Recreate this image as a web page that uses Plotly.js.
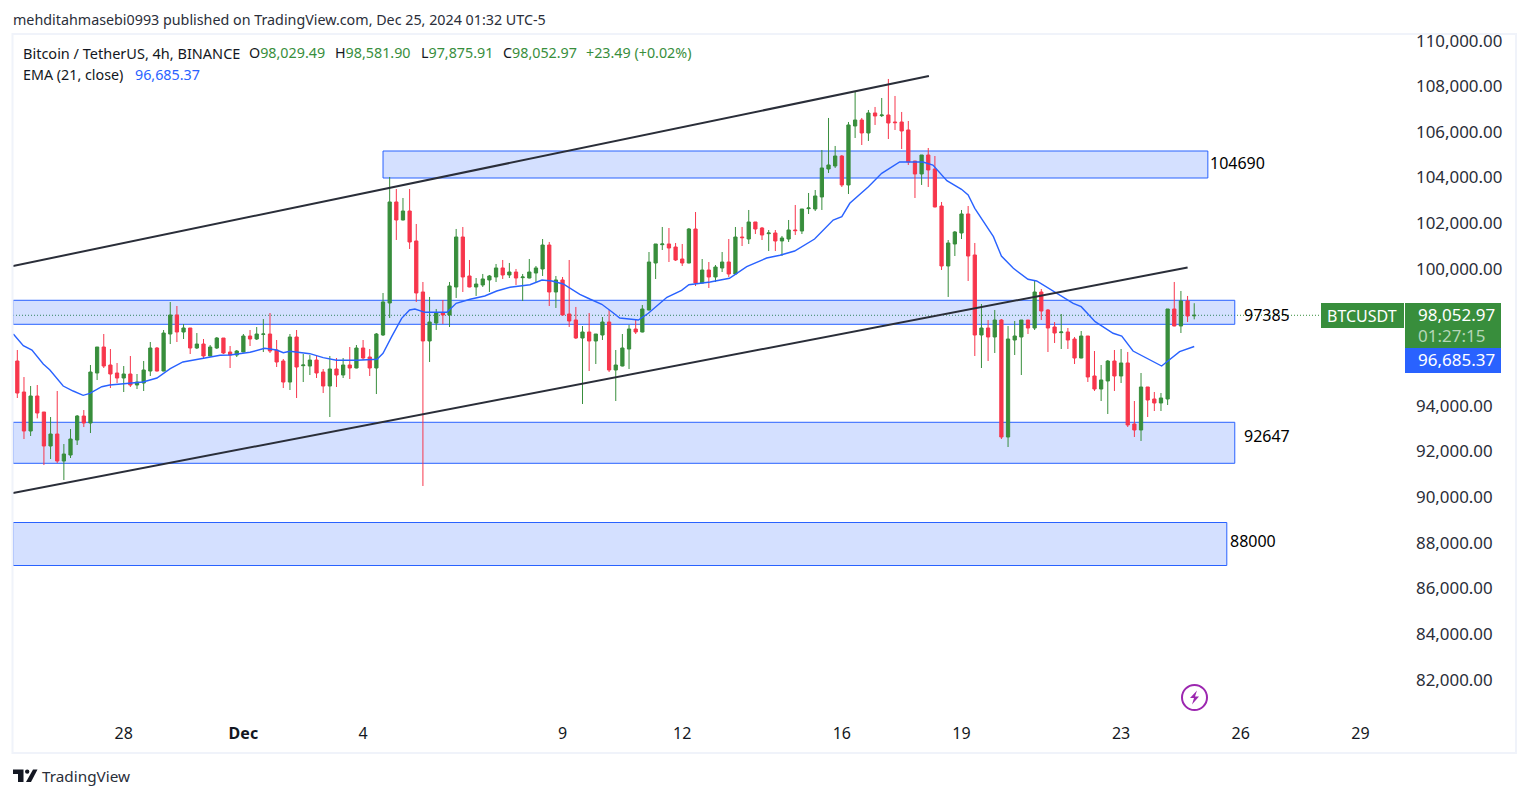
<!DOCTYPE html>
<html>
<head>
<meta charset="utf-8">
<script src="https://cdn.plot.ly/plotly-3.0.1.min.js"></script>
<style>
  html, body { margin: 0; padding: 0; background: #fff; }
  #chart { width: 1529px; height: 798px; }
</style>
</head>
<body>
<div id="chart"></div>
<script>
// BTCUSDT 4h candles, oldest first
const opens = [
  96050,94691,92982,94516,93815,92325,92851,91667,91930,92588,
  93639,93333,95524,96663,95874,95524,95305,95480,94998,95085,
  95611,96619,95611,97233,98065,97320,97496,96619,96794,96269,
  96619,97057,96444,96312,96444,97145,97014,97218,97233,96532,
  96050,95129,97101,95845,95830,96093,95567,94954,95699,95436,
  95874,95743,96619,96225,95743,97190,98592,103018,102229,102623,
  101309,99074,96927,97715,98154,98066,99293,101484,99775,99293,
  99381,99600,99731,100126,99819,99950,99702,99687,99906,100082,
  101133,99074,99600,98110,97847,97057,97320,96926,97189,97759,
  95655,95831,96575,97452,97320,98284,100344,101148,101177,101045,
  100519,100344,101834,99468,100037,99731,100125,100388,99862,101483,
  101396,102141,101878,101630,101659,101309,101396,101791,101747,102726,
  102711,103237,104464,104595,105033,103763,106348,106611,106041,106918,
  106801,106830,106523,106523,106173,104814,104245,105077,104464,102842,
  100213,101177,101659,102492,100695,97189,97496,97102,97846,92719,
  96970,97102,97846,97496,99073,98285,97540,97292,97321,97014,
  96181,97145,95393,94823,95174,96050,95393,95963,93290,93027,
  94911,94385,94210,94385,98329,97584,98680,98029.49
];
const highs = [
  96532,95348,94954,94998,93815,93596,94735,92412,93070,93683,
  93902,95874,96663,97233,96575,95962,95830,96269,95480,96050,
  96882,96663,97408,98635,98460,97671,97496,97276,97014,96751,
  97101,97057,96707,96532,97233,97408,97539,97890,98153,96970,
  96137,97233,97408,96356,96312,96269,95699,96269,96181,96181,
  96663,96751,96970,96575,97276,99030,104113,103587,103193,103587,
  102054,99512,98855,98329,98723,99512,101835,101922,100476,99687,
  99863,99819,100301,100476,100345,100082,99863,100520,100213,101396,
  101265,99775,99731,100476,98417,97583,98153,97233,97978,98284,
  96532,97233,97627,97846,98504,100826,101177,101922,101878,101220,
  101177,101878,102579,100519,100388,100256,100826,101396,101922,101922,
  102667,102141,101922,101790,101790,101528,102229,102886,102711,103412,
  103543,105296,106699,105472,105077,106523,107838,106699,107049,107181,
  107575,108408,107663,106962,106567,104814,105077,105384,105033,103018,
  101352,101747,102667,102842,101221,98548,97846,98285,97890,97584,
  97803,97846,97846,99555,99205,98329,97759,98109,97496,97102,
  97364,97145,96488,95875,96094,96532,96576,96445,94297,95524,
  94911,94692,94648,98329,99512,99118,98899,98581.90
];
const lows = [
  94428,92631,92763,93537,91492,91755,91580,90835,91799,92369,
  93157,92894,95217,95743,94866,95085,94691,94910,94823,94735,
  95392,95590,95600,96794,96882,97014,96356,96575,96137,96250,
  96575,96356,95743,96225,96430,96707,96970,96444,96400,95787,
  94866,94779,94428,95129,95436,95305,94647,93596,94910,95305,
  95261,95730,96093,95392,94603,97146,97934,101353,102210,100958,
  98636,90573,96006,97409,97672,97540,98811,99074,99280,98899,
  99293,99074,99512,99644,99687,99381,98679,99670,99512,99775,
  98460,98373,98050,97540,97014,94165,95611,95918,96970,95568,
  94297,95815,95699,97233,97305,98270,99643,100914,100388,100432,
  100213,100330,99336,99455,99249,99511,99950,99731,99850,101089,
  101177,101615,101352,100870,100870,100651,101265,101572,101615,102492,
  102623,102667,104288,104508,103675,103368,105822,105515,105691,106392,
  106742,105778,106173,105340,104639,103193,103763,103675,102785,100038,
  98855,100651,101396,99556,96269,95743,96050,96400,92632,92281,
  96313,95436,97233,97408,97846,96444,96839,96576,96576,95918,
  96170,95130,94736,94297,93728,94736,95086,93158,92720,92545,
  93596,93859,93859,94122,97570,97277,97759,97875.91
];
const closes = [
  94647,92982,94516,93771,92325,92851,91667,91974,92631,93639,
  93333,95567,96663,95830,95480,95305,95480,94998,95129,95655,
  96619,95611,97276,98065,97320,97496,96619,96794,96269,96663,
  97057,96400,96312,96488,97145,97014,97233,97233,96488,96006,
  95129,97101,95787,95874,96093,95524,94954,95699,95436,95874,
  95743,96619,96181,95743,97233,98636,103018,102229,102623,101265,
  99030,96927,97759,98154,98066,99337,101484,99731,99293,99424,
  99644,99775,100126,99819,99950,99687,99731,99950,100126,101133,
  99074,99600,98066,97803,97058,97320,96926,97233,97759,95655,
  95874,96619,97452,97320,98328,100388,101177,101177,101001,100476,
  100344,101834,99468,100037,99731,100169,100388,99862,101483,101454,
  102141,101834,101571,101659,101308,101440,101791,101762,102711,102755,
  103281,104508,104639,105033,103763,106392,106611,106041,106918,106786,
  106830,106479,106494,106129,104770,104245,105077,104420,102799,100213,
  101221,101703,102492,100651,97189,97496,97102,97846,92719,97014,
  97145,97846,97496,99073,98241,97496,97277,97321,96970,96181,
  97145,95349,94823,95218,96050,95393,95963,93246,93027,94911,
  94341,94210,94429,98329,97584,98680,98022,98052.97
];

// EMA line, read at its bends: position in bars and price
const emaBars = [
  -0.6,0.9,2.2,3.9,4.9,6.9,8.4,9.9,10.9,12.7,13.9,18.9,21,23,24.9,27.9,30.5,32,35,37.2,
  39,40,41,44,46,48,51.1,54.1,55,56.3,57.8,59,59.8,61.3,64.6,66,68.1,70.3,72.1,74.1,
  77.1,78.9,80.4,82.1,83.1,84.6,86.1,87.9,89.4,90.6,93.4,94.9,97.7,99.9,101,104.2,107.1,109.7,112.7,114.7,
  116.9,119.9,122.7,124,125.2,128,130,132.7,136.2,137.7,139.8,142,143,144,146.8,148,149.8,152,153.3,156,
  158.8,160,162.1,164.8,166.1,167.8,172.1,174.8,177
];
const emaValues = [
  97233,96720,96532,95918,95655,94954,94735,94547,94634,94923,94998,95130,95305,95712,96006,96181,96300,96313,96431,96606,
  96532,96414,96475,96370,96195,96080,96080,96124,96387,97115,97921,98285,98329,98184,98184,98578,98754,98898,99117,99280,
  99393,99599,99555,99424,99249,98973,98767,98534,98210,97934,97846,98140,98841,99148,99393,99511,99674,100182,100563,100682,
  100870,101396,102228,102373,102960,103688,104275,104770,104770,104639,103951,103574,103324,102741,101497,100651,100112,99630,99555,99087,
  98578,98430,97772,97264,97146,96488,95831,96458,96685.37
];

// support / resistance boxes and the channel lines the author drew
const zoneLabels = ['104690', '97385', '92647', '88000'];
const zoneTops = [105252, 98710, 93364, 88973];
const zoneBottoms = [104069, 97658, 91567, 87089];
const zoneStartBars = [55, -0.65, -0.65, -0.65];
const zoneEndBars = [179.05, 183.1, 183.1, 181.9];

const trendStartBars = [-0.65, -0.65];
const trendStartPrices = [100213, 90266];
const trendEndBars = [137.1, 176];
const trendEndPrices = [108539, 100147];

const priceTicks = [110000,108000,106000,104000,102000,100000,94000,92000,90000,88000,86000,84000,82000];
const dayTickBars = [16, 34, 52, 82, 100, 124, 142, 166, 184, 202];
const dayTickLabels = ['28', '<b>Dec</b>', '4', '9', '12', '16', '19', '23', '26', '29'];

const lastClose = 98052.97;
const FONT = '"Noto Sans", sans-serif';
const GREEN = '#388e3c';
const RED = '#f7364c';
const BLUE = '#2962ff';
const INK = '#131722';

const W = 1529, H = 798;
const plotL = 13, plotR = 1405, plotT = 35, plotB = 716;
// the reference sets its price labels about 2px above the true level
const labelLift = 90;

// bar index -> date string (Dec 1 is bar 34, one bar is 4 hours)
function barTime(i) {
    const ms = Date.UTC(2024, 11, 1) + (i - 34) * 4 * 3600 * 1000;
    return new Date(ms).toISOString().slice(0, 19).replace('T', ' ');
}
function px(x) { return (x - plotL) / (plotR - plotL); }
function py(y) { return 1 - (y - plotT) / (plotB - plotT); }
function fmt(v) { return v.toLocaleString('en-US', { minimumFractionDigits: 2, maximumFractionDigits: 2 }); }

function pathFrom(points) {
    return 'M' + points.map(p => px(p[0]) + ',' + py(p[1])).join(' L') + ' Z';
}
function paperRect(x0, y0, x1, y1, fill, line) {
    return {
        type: 'rect', xref: 'paper', yref: 'paper', layer: 'above',
        x0: px(x0), x1: px(x1), y0: py(y0), y1: py(y1),
        fillcolor: fill, line: line || { width: 0 }
    };
}
function label(x, y, text, size, color, anchor) {
    return {
        xref: 'paper', yref: 'paper', x: px(x), y: py(y), text: text,
        showarrow: false, xanchor: anchor || 'left', yanchor: 'middle',
        borderpad: 0, font: { family: FONT, size: size, color: color || INK }
    };
}

const times = opens.map((_, i) => barTime(i));

const candles = {
    type: 'candlestick',
    x: times, open: opens, high: highs, low: lows, close: closes,
    increasing: { line: { color: GREEN, width: 1 }, fillcolor: GREEN },
    decreasing: { line: { color: RED, width: 1 }, fillcolor: RED },
    whiskerwidth: 0,
    hoverinfo: 'skip',
    showlegend: false
};
const ema = {
    type: 'scatter', mode: 'lines',
    x: emaBars.map(barTime), y: emaValues,
    line: { color: BLUE, width: 1.4 },
    hoverinfo: 'skip', showlegend: false
};

const shapes = [];
zoneLabels.forEach((_, i) => {
    shapes.push({
        type: 'rect', xref: 'x', yref: 'y', layer: 'below',
        x0: barTime(zoneStartBars[i]), x1: barTime(zoneEndBars[i]),
        y0: zoneBottoms[i], y1: zoneTops[i],
        fillcolor: 'rgba(41,98,255,0.2)', line: { color: BLUE, width: 1 }
    });
});
trendStartBars.forEach((_, i) => {
    shapes.push({
        type: 'line', xref: 'x', yref: 'y', layer: 'above',
        x0: barTime(trendStartBars[i]), x1: barTime(trendEndBars[i]),
        y0: trendStartPrices[i], y1: trendEndPrices[i],
        line: { color: '#2a2e39', width: 2 }
    });
});
// last price dotted line
shapes.push({
    type: 'line', xref: 'paper', yref: 'y', layer: 'below',
    x0: 0, x1: px(1321), y0: lastClose, y1: lastClose,
    line: { color: GREEN, width: 1, dash: '1px,2px' }
});
// frame round the chart
shapes.push(paperRect(12.5, 34, 1516, 753, 'rgba(0,0,0,0)', { color: '#f0f3fa', width: 2 }));
// price tags
shapes.push(paperRect(1321, 303, 1404, 328, GREEN));
shapes.push(paperRect(1405, 303, 1501, 348, GREEN));
shapes.push(paperRect(1405, 348, 1501, 373, BLUE));
// bolt badge
shapes.push({
    type: 'circle', xref: 'paper', yref: 'paper', layer: 'above',
    x0: px(1182), x1: px(1207), y0: py(685), y1: py(710),
    line: { color: '#9c27b0', width: 2 }, fillcolor: 'rgba(0,0,0,0)'
});
shapes.push({
    type: 'path', xref: 'paper', yref: 'paper', layer: 'above',
    path: pathFrom([[1197, 690.5], [1190, 698], [1194, 698], [1192, 704.5], [1199, 696.5], [1195, 696.5]]),
    fillcolor: '#9c27b0', line: { width: 0 }
});
// TradingView mark
[
    [[13, 769.5], [23.5, 769.5], [23.5, 782], [18, 782], [18, 774], [13, 774]],
    [[33, 769.5], [37.5, 769.5], [31, 782], [26, 782]]
].forEach(points => {
    shapes.push({
        type: 'path', xref: 'paper', yref: 'paper', layer: 'above',
        path: pathFrom(points), fillcolor: '#131722', line: { width: 0 }
    });
});
shapes.push({
    type: 'circle', xref: 'paper', yref: 'paper', layer: 'above',
    x0: px(25), x1: px(29.4), y0: py(769.4), y1: py(773.8),
    fillcolor: '#131722', line: { width: 0 }
});

const annotations = [
    label(12, 19, 'mehditahmasebi0993 published on TradingView.com, Dec 25, 2024 01:32 UTC-5', 14.3, '#2a2e39'),
    label(22, 53, 'Bitcoin / TetherUS, 4h, BINANCE', 14.5, INK),
    label(248, 53, 'O<span style="color:' + GREEN + '">98,029.49</span>', 14.3, INK),
    label(334, 53, 'H<span style="color:' + GREEN + '">98,581.90</span>', 14.3, INK),
    label(420, 53, 'L<span style="color:' + GREEN + '">97,875.91</span>', 14.3, INK),
    label(502, 53, 'C<span style="color:' + GREEN + '">98,052.97</span>', 14.3, INK),
    label(585, 53, '+23.49 (+0.02%)', 14.3, GREEN),
    label(22, 74, 'EMA (21, close)', 14.3, INK),
    label(134, 74, '96,685.37', 14.3, BLUE),
    label(1209, 163, zoneLabels[0], 16, '#000'),
    label(1243, 315, zoneLabels[1], 16, '#000'),
    label(1243, 436, zoneLabels[2], 16, '#000'),
    label(1229, 541, zoneLabels[3], 16, '#000'),
    label(1326, 315.5, 'BTCUSDT', 16, '#fff'),
    label(1496, 314.5, fmt(lastClose), 17, '#fff', 'right'),
    label(1486, 335, '01:27:15', 17, '#b5d6b7', 'right'),
    label(1496, 360, fmt(emaValues[emaValues.length - 1]), 17, '#fff', 'right'),
    label(41, 776, 'TradingView', 15.3, '#2a2e39')
];

const layout = {
    width: W, height: H,
    margin: { l: plotL, r: W - plotR, t: plotT, b: H - plotB, pad: 0 },
    paper_bgcolor: '#fff', plot_bgcolor: '#fff',
    showlegend: false,
    boxgap: 0.3,
    xaxis: {
        type: 'date',
        range: [barTime(-0.65), barTime(208.7)],
        rangeslider: { visible: false },
        tickmode: 'array',
        tickvals: dayTickBars.map(barTime),
        ticktext: dayTickLabels,
        ticks: '', showgrid: false, zeroline: false, showline: false,
        tickfont: { family: FONT, size: 16, color: INK },
        ticklabelstandoff: 6
    },
    yaxis: {
        side: 'right',
        range: [80494, 110335],
        tickmode: 'array',
        tickvals: priceTicks.map(v => v + labelLift),
        ticktext: priceTicks.map(fmt),
        ticks: '', showgrid: false, zeroline: false, showline: false,
        tickfont: { family: FONT, size: 16.9, color: '#2a2e39' },
        ticklabelstandoff: 10
    },
    shapes: shapes,
    annotations: annotations
};

Plotly.newPlot('chart', [candles, ema], layout, { staticPlot: true, displayModeBar: false });
</script>
</body>
</html>
